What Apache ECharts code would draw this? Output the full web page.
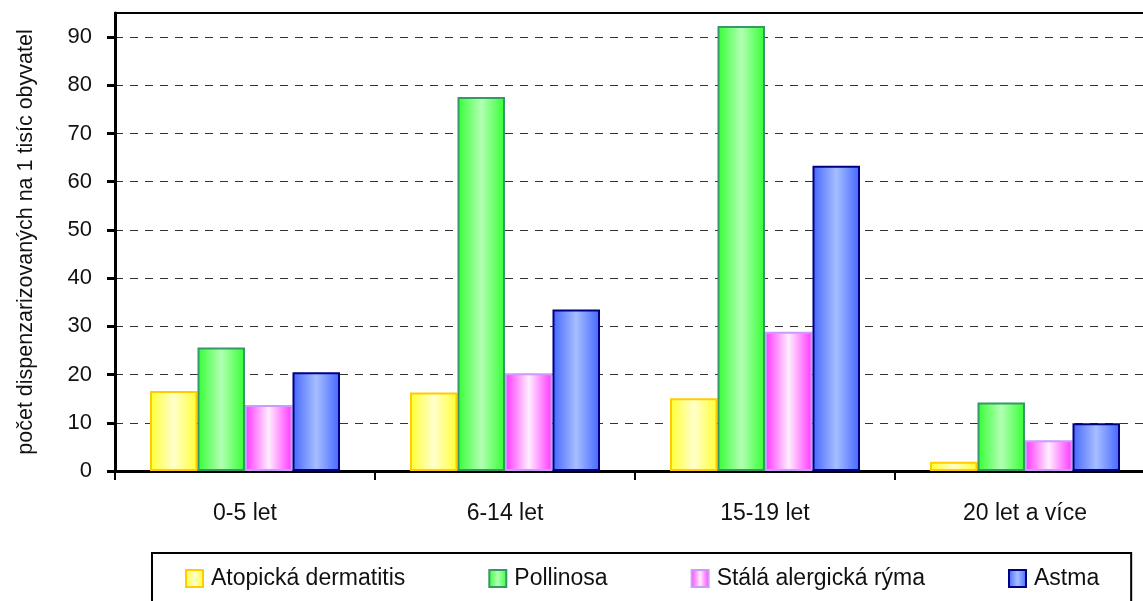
<!DOCTYPE html>
<html>
<head>
<meta charset="utf-8">
<script src="https://cdn.jsdelivr.net/npm/echarts@6/dist/echarts.min.js"></script>
<style>
  html, body { margin: 0; padding: 0; background: #fff; }
  #chart { width: 1143px; height: 601px; }
</style>
</head>
<body>
<div id="chart"></div>
<script>
let myChart = echarts.init(document.getElementById('chart'));

// data
let categories = ['0-5 let', '6-14 let', '15-19 let', '20 let a více'];
let atopicka = [16.6, 16.3, 15.1, 1.9];
let pollinosa = [25.6, 77.6, 92.3, 14.2];
let ryma = [13.7, 20.3, 28.9, 6.4];
let astma = [20.5, 33.5, 63.3, 9.9];
let yTicks = [0, 10, 20, 30, 40, 50, 60, 70, 80, 90];

let fontName = '"Liberation Sans", Arial, sans-serif';

// bar fill: dark at the edges, light in the middle
function barFill(edge, light) {
  return {
    type: 'linear', x: 0, y: 0, x2: 1, y2: 0,
    colorStops: [
      {offset: 0, color: edge},
      {offset: 0.5, color: light},
      {offset: 1, color: edge}
    ]
  };
}

function makeSeries(name, data, edge, light, border) {
  return {
    name: name,
    type: 'bar',
    data: data,
    barWidth: 47.5,
    barGap: '0%',
    itemStyle: {
      color: barFill(edge, light),
      borderColor: border,
      borderWidth: 2
    }
  };
}

option = {
  animation: false,
  backgroundColor: '#fff',
  textStyle: {fontFamily: fontName},
  grid: {
    left: 115,
    top: 13,
    width: 1040,
    height: 458,
    outerBoundsMode: 'none'
  },
  legend: {
    left: 152,
    top: 553,
    padding: [14, 32, 40, 33],
    borderColor: '#000',
    borderWidth: 2,
    itemGap: 83,
    itemWidth: 17,
    itemHeight: 17,
    icon: 'rect',
    textStyle: {fontFamily: fontName, fontSize: 23, color: '#111', padding: [0, 0, 0, 3]},
    data: ['Atopická dermatitis', 'Pollinosa', 'Stálá alergická rýma', 'Astma']
  },
  xAxis: [
    {
      type: 'category',
      data: categories,
      axisLine: {lineStyle: {color: '#000', width: 3}},
      axisTick: {show: true, length: 9, lineStyle: {color: '#000', width: 2}},
      axisLabel: {fontFamily: fontName, fontSize: 23, color: '#111', margin: 31}
    },
    {
      type: 'category',
      data: categories,
      position: 'top',
      z: 10,
      axisLine: {lineStyle: {color: '#000', width: 2}},
      axisTick: {show: false},
      axisLabel: {show: false}
    }
  ],
  yAxis: {
    type: 'value',
    min: 0,
    max: 95,
    interval: 10,
    name: 'počet dispenzarizovaných na 1 tisíc obyvatel',
    nameLocation: 'middle',
    nameGap: 78,
    nameTextStyle: {fontFamily: fontName, fontSize: 21.5, color: '#111'},
    axisLine: {show: true, lineStyle: {color: '#000', width: 3}},
    axisTick: {show: true, length: 8, customValues: yTicks, lineStyle: {color: '#000', width: 3}},
    axisLabel: {
      fontFamily: fontName, fontSize: 22, color: '#111', margin: 23,
      customValues: yTicks
    },
    splitLine: {
      show: true,
      lineStyle: {color: '#333', width: 1, type: [8, 7]}
    }
  },
  series: [
    makeSeries('Atopická dermatitis', atopicka, '#FFFF33', '#FFFFCC', '#FFCC00'),
    makeSeries('Pollinosa', pollinosa, '#33FF33', '#B3FFB3', '#339966'),
    makeSeries('Stálá alergická rýma', ryma, '#FF33FF', '#FFEEFF', '#CC99FF'),
    makeSeries('Astma', astma, '#4466FF', '#A6BEFF', '#000080')
  ]
};

myChart.setOption(option);
</script>
</body>
</html>
